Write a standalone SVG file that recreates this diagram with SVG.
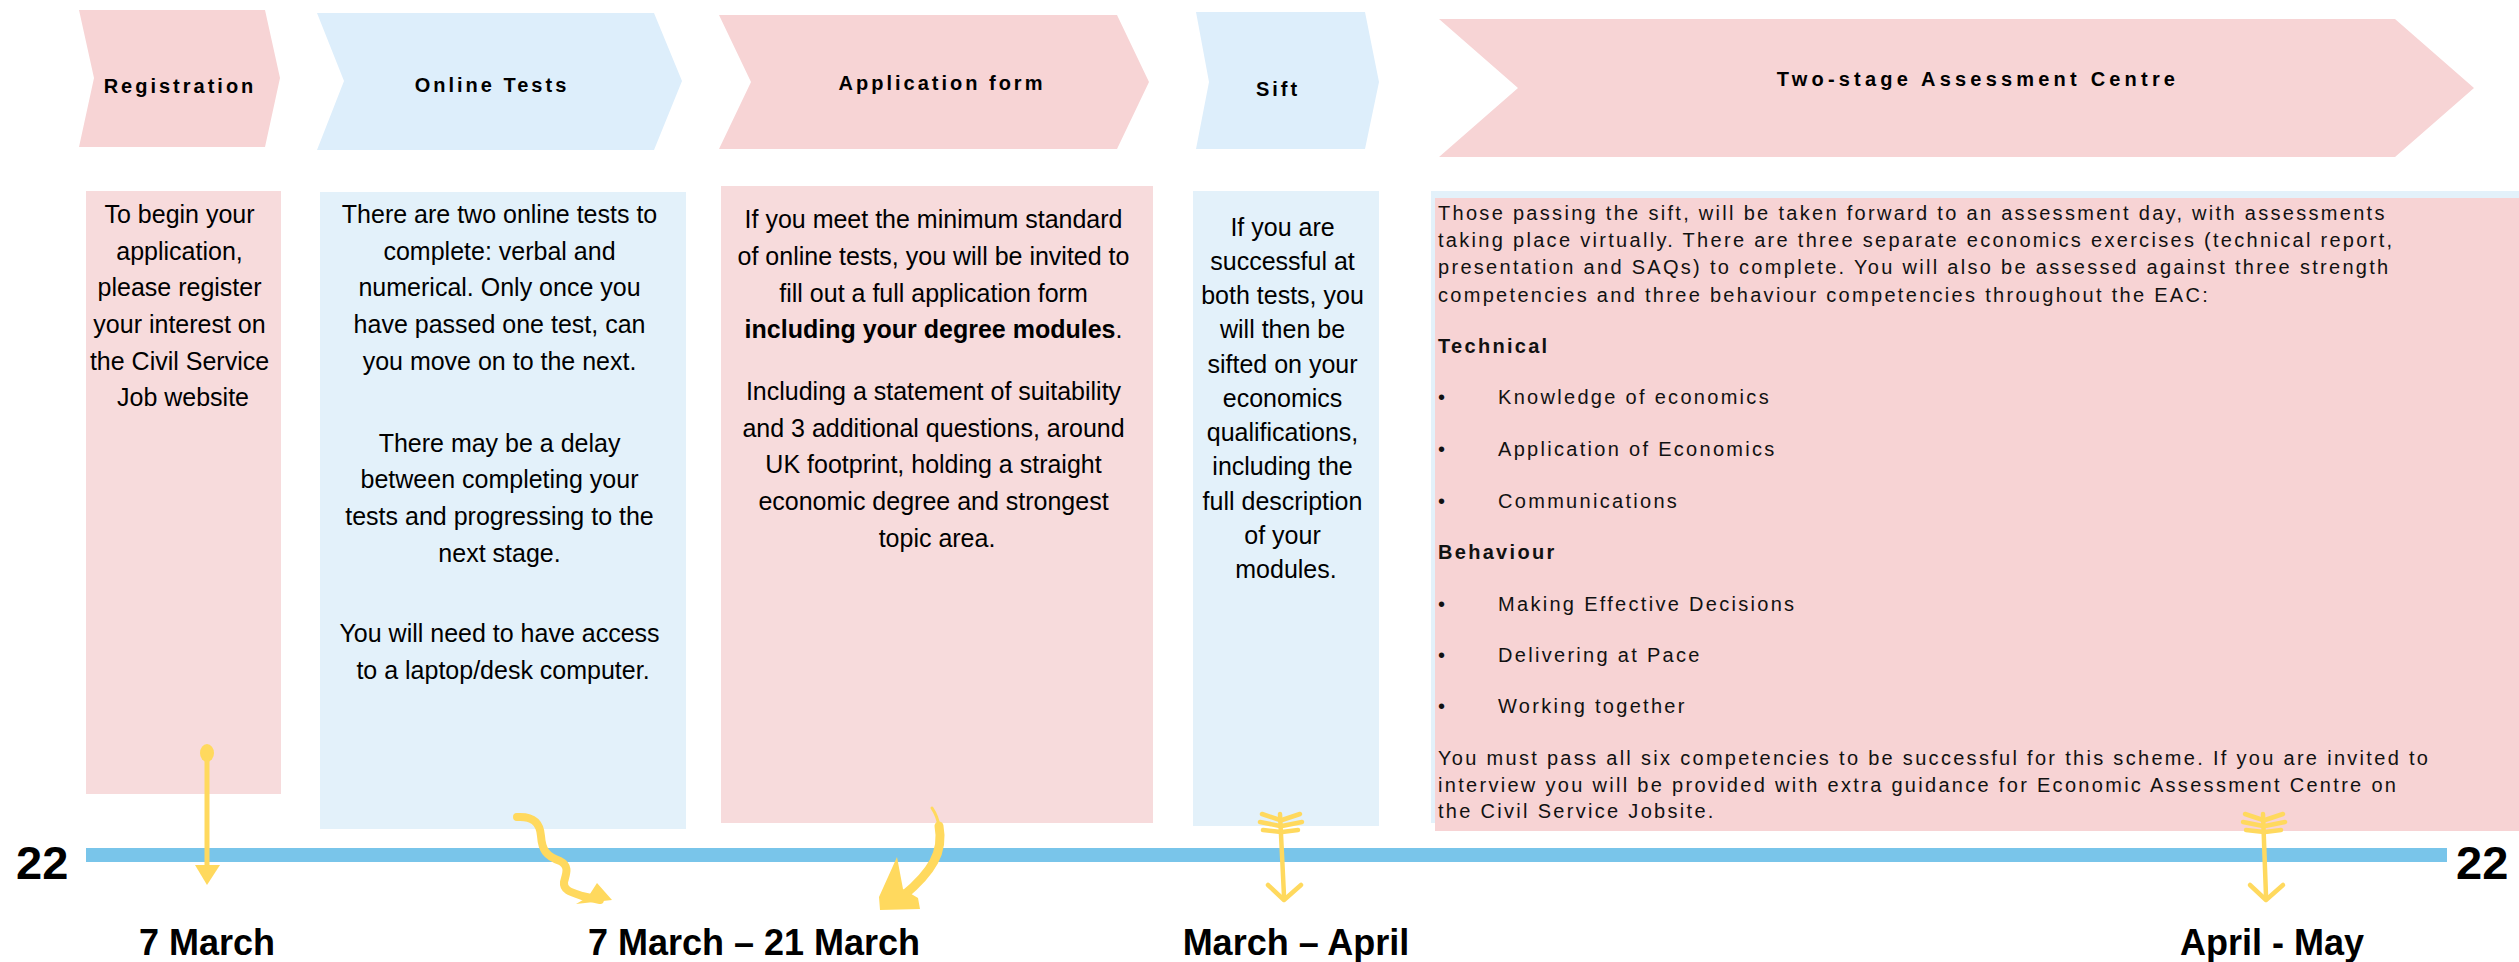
<svg xmlns="http://www.w3.org/2000/svg" width="2519" height="962" viewBox="0 0 2519 962">
<style>
.cp{fill:#F7D4D5}
.cb{fill:#DDEEFB}
.bp{fill:#F7DBDC}
.bb{fill:#E3F1FA}
.hd{font-family:"Liberation Sans",Arial,sans-serif;font-weight:bold;font-size:20px;letter-spacing:3px;fill:#000;text-anchor:middle}
.bd{font-family:"Liberation Sans",Arial,sans-serif;font-size:25px;fill:#000;text-anchor:middle}
.ea{font-family:"Liberation Sans",Arial,sans-serif;font-size:20px;letter-spacing:2.3px;fill:#111}
.dt{font-family:"Liberation Sans",Arial,sans-serif;font-weight:bold;font-size:36px;fill:#000;text-anchor:middle}
.yr{font-family:"Liberation Sans",Arial,sans-serif;font-weight:bold;font-size:47px;fill:#000}
.ys{fill:none;stroke:#FFD95E;stroke-linecap:round;stroke-linejoin:round}
.yf{fill:#FFD95E}
</style>
<rect width="2519" height="962" fill="#fff"/>

<g id="timeline">
<rect x="86" y="848" width="2361" height="14" fill="#79C5EA"/>
<text class="yr" x="16" y="879">22</text>
<text class="yr" x="2456" y="879">22</text>
</g>

<g id="registration">
<polygon class="cp" points="79,10 265,10 280,78 265,147 79,147 94,78"/>
<text class="hd" x="180" y="93">Registration</text>
<rect class="bp" x="86" y="191" width="195" height="603"/>
<text class="bd">
<tspan x="183" y="223">To begin your</tspan>
<tspan x="183" y="260">application,</tspan>
<tspan x="183" y="296">please register</tspan>
<tspan x="183" y="333">your interest on</tspan>
<tspan x="183" y="370">the Civil Service</tspan>
<tspan x="183" y="406">Job website</tspan>
</text>
</g>

<g id="online-tests">
<polygon class="cb" points="317,13 654,13 682,81 654,150 317,150 344,81"/>
<text class="hd" x="492" y="92">Online Tests</text>
<rect class="bb" x="320" y="192" width="366" height="637"/>
<text class="bd">
<tspan x="503" y="223">There are two online tests to</tspan>
<tspan x="503" y="260">complete: verbal and</tspan>
<tspan x="503" y="296">numerical. Only once you</tspan>
<tspan x="503" y="333">have passed one test, can</tspan>
<tspan x="503" y="370">you move on to the next.</tspan>
<tspan x="503" y="452">There may be a delay</tspan>
<tspan x="503" y="488">between completing your</tspan>
<tspan x="503" y="525">tests and progressing to the</tspan>
<tspan x="503" y="562">next stage.</tspan>
<tspan x="503" y="642">You will need to have access</tspan>
<tspan x="503" y="679">to a laptop/desk computer.</tspan>
</text>
</g>

<g id="application-form">
<polygon class="cp" points="719,15 1117,15 1149,82 1117,149 719,149 751,82"/>
<text class="hd" x="942" y="90">Application form</text>
<rect class="bp" x="721" y="186" width="432" height="637"/>
<text class="bd">
<tspan x="937" y="228">If you meet the minimum standard</tspan>
<tspan x="937" y="265">of online tests, you will be invited to</tspan>
<tspan x="937" y="302">fill out a full application form</tspan>
<tspan x="937" y="338"><tspan font-weight="bold">including your degree modules</tspan>.</tspan>
<tspan x="937" y="400">Including a statement of suitability</tspan>
<tspan x="937" y="437">and 3 additional questions, around</tspan>
<tspan x="937" y="473">UK footprint, holding a straight</tspan>
<tspan x="937" y="510">economic degree and strongest</tspan>
<tspan x="937" y="547">topic area.</tspan>
</text>
</g>

<g id="sift">
<polygon class="cb" points="1196,12 1365,12 1379,82 1365,149 1196,149 1209,82"/>
<text class="hd" x="1278" y="96">Sift</text>
<rect class="bb" x="1193" y="191" width="186" height="635"/>
<text class="bd">
<tspan x="1286" y="236">If you are</tspan>
<tspan x="1286" y="270">successful at</tspan>
<tspan x="1286" y="304">both tests, you</tspan>
<tspan x="1286" y="338">will then be</tspan>
<tspan x="1286" y="373">sifted on your</tspan>
<tspan x="1286" y="407">economics</tspan>
<tspan x="1286" y="441">qualifications,</tspan>
<tspan x="1286" y="475">including the</tspan>
<tspan x="1286" y="510">full description</tspan>
<tspan x="1286" y="544">of your</tspan>
<tspan x="1286" y="578">modules.</tspan>
</text>
</g>

<g id="assessment-centre">
<polygon class="cp" points="1439,19 2395,19 2474,88 2395,157 1439,157 1518,88"/>
<text class="hd" x="1978" y="86" style="letter-spacing:4.2px">Two-stage Assessment Centre</text>
<rect class="bb" x="1431" y="191" width="1088" height="632"/>
<rect fill="#F7D3D4" x="1435" y="198" width="1084" height="633"/>
<text class="ea">
<tspan x="1438" y="220">Those passing the sift, will be taken forward to an assessment day, with assessments</tspan>
<tspan x="1438" y="247">taking place virtually. There are three separate economics exercises (technical report,</tspan>
<tspan x="1438" y="274">presentation and SAQs) to complete. You will also be assessed against three strength</tspan>
<tspan x="1438" y="302">competencies and three behaviour competencies throughout the EAC:</tspan>
<tspan x="1438" y="353" font-weight="bold">Technical</tspan>
<tspan x="1438" y="404">•</tspan><tspan x="1498" y="404">Knowledge of economics</tspan>
<tspan x="1438" y="456">•</tspan><tspan x="1498" y="456">Application of Economics</tspan>
<tspan x="1438" y="508">•</tspan><tspan x="1498" y="508">Communications</tspan>
<tspan x="1438" y="559" font-weight="bold">Behaviour</tspan>
<tspan x="1438" y="611">•</tspan><tspan x="1498" y="611">Making Effective Decisions</tspan>
<tspan x="1438" y="662">•</tspan><tspan x="1498" y="662">Delivering at Pace</tspan>
<tspan x="1438" y="713">•</tspan><tspan x="1498" y="713">Working together</tspan>
<tspan x="1438" y="765">You must pass all six competencies to be successful for this scheme. If you are invited to</tspan>
<tspan x="1438" y="792">interview you will be provided with extra guidance for Economic Assessment Centre on</tspan>
<tspan x="1438" y="818">the Civil Service Jobsite.</tspan>
</text>
</g>

<g id="dates">
<text class="dt" x="207" y="955">7 March</text>
<text class="dt" x="754" y="955">7 March – 21 March</text>
<text class="dt" x="1296" y="955">March – April</text>
<text class="dt" x="2272" y="955">April - May</text>
</g>

<g id="connectors">
<!-- registration pin arrow -->
<ellipse class="yf" cx="207" cy="753" rx="7" ry="9"/>
<line class="ys" x1="207" y1="758" x2="207" y2="870" stroke-width="5"/>
<polygon class="yf" points="195,865 220,865 207,885"/>
<!-- squiggle arrow -->
<path class="ys" stroke-width="8" d="M517,817 C532,816 540,822 541,836 C542,850 546,856 560,861 C570,866 566,874 564,882 C563,890 570,892 582,896 L600,900"/>
<polygon class="yf" points="597,883 612,900 576,904 588,897"/>
<!-- curved arrow -->
<path class="ys" stroke-width="3" d="M932,808 C936,814 938,820 939,826"/>
<path class="ys" stroke-width="9" d="M939,826 C944,852 932,872 903,896"/>
<polygon class="yf" points="897,857 903,889 918,898 920,909 880,910 879,897"/>
<!-- sift feather arrow -->
<g class="ys" stroke-width="4.5">
<line x1="1280" y1="814" x2="1284" y2="896"/>
<line x1="1280" y1="820" x2="1262" y2="814"/>
<line x1="1280" y1="826" x2="1260" y2="822"/>
<line x1="1281" y1="832" x2="1263" y2="830"/>
<line x1="1282" y1="820" x2="1300" y2="814"/>
<line x1="1282" y1="826" x2="1302" y2="822"/>
<line x1="1282" y1="832" x2="1298" y2="830"/>
<polyline points="1268,885 1284,900 1301,885"/>
</g>
<!-- april-may feather arrow -->
<g class="ys" stroke-width="4.5">
<line x1="2263" y1="814" x2="2266" y2="896"/>
<line x1="2263" y1="820" x2="2245" y2="814"/>
<line x1="2263" y1="826" x2="2243" y2="822"/>
<line x1="2264" y1="832" x2="2246" y2="830"/>
<line x1="2265" y1="820" x2="2283" y2="814"/>
<line x1="2265" y1="826" x2="2285" y2="822"/>
<line x1="2265" y1="832" x2="2281" y2="830"/>
<polyline points="2250,885 2266,900 2283,885"/>
</g>
</g>
</svg>
